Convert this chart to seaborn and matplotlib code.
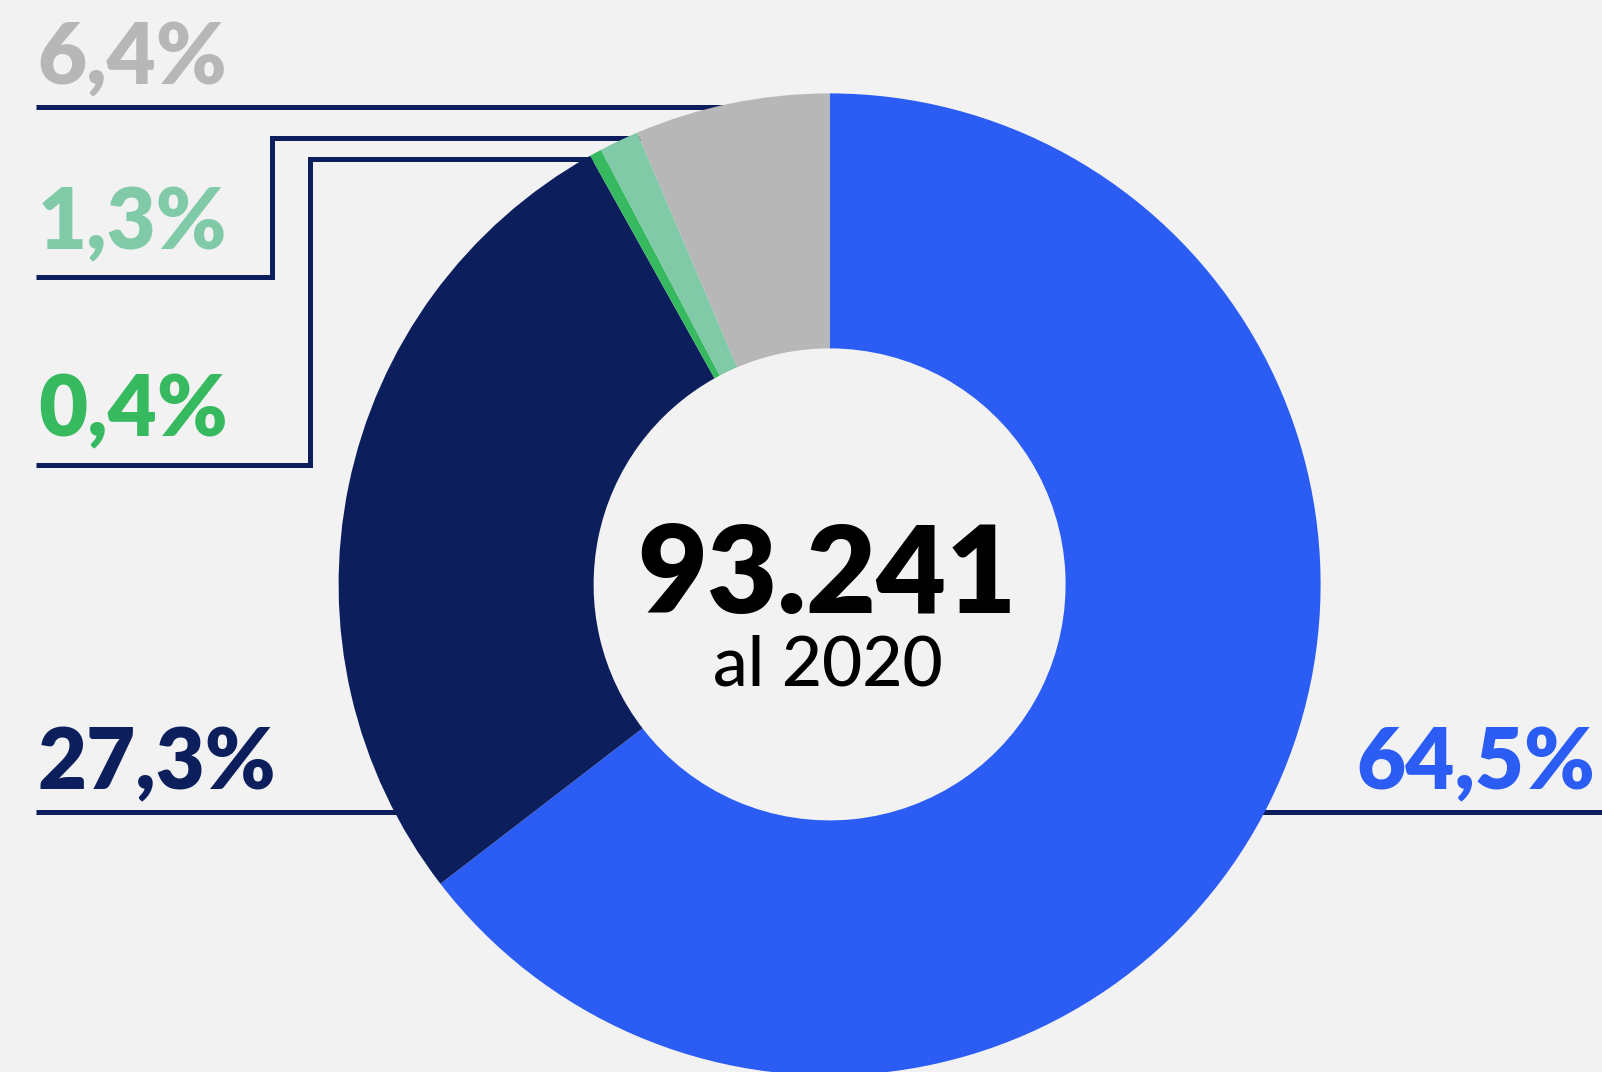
import numpy as np
import matplotlib
matplotlib.use("Agg")
import matplotlib.pyplot as plt
import seaborn as sns

# Shares of the total (clockwise from 12 o'clock)
categories = ["blu", "navy", "verde", "verde chiaro", "grigio"]
shares = [64.5, 27.3, 0.4, 1.3, 6.4]
share_labels = ["64,5%", "27,3%", "0,4%", "1,3%", "6,4%"]
total_label = "93.241"
subtitle = "al 2020"

colors = ["#2B5DF5", "#0C1F5C", "#36B95F", "#80CAA8", "#B7B7B7"]
bg = "#F2F2F2"
line_color = "#0C1F5C"

sns.set_theme(style="white")
plt.rcParams["font.family"] = ["Lato", "DejaVu Sans"]

W, H = 1602, 1072
fig = plt.figure(figsize=(W / 100, H / 100), dpi=100, facecolor=bg)
ax = fig.add_axes([0, 0, 1, 1])
ax.set_facecolor(bg)

cx, cy = 829.6, 584.4          # donut centre (pixels from top-left)
r_out, r_in = 491, 236


def fy(y):
    return H - y


ax.pie(shares, colors=colors, startangle=90, counterclock=False,
       radius=r_out, center=(cx, fy(cy)), frame=True,
       wedgeprops=dict(width=r_out - r_in, linewidth=0, antialiased=True))

ax.set_xlim(0, W)
ax.set_ylim(0, H)
ax.set_aspect("equal")
ax.axis("off")


def hit_x(y, side=-1, r=r_out - 8):
    dy = cy - y
    return cx + side * np.sqrt(max(r * r - dy * dy, 0.0))


lw = 3.6
x0 = 35.8
kw = dict(color=line_color, lw=lw, zorder=0, solid_capstyle="butt",
          solid_joinstyle="miter")

# leader lines, drawn underneath the ring
y_gray = 106.8
ax.plot([x0, hit_x(y_gray)], [fy(y_gray)] * 2, **kw)

y_lg_low, x_lg, y_lg_high = 276.9, 271.8, 137.9
ax.plot([x0, x_lg, x_lg, hit_x(y_lg_high)],
        [fy(y_lg_low), fy(y_lg_low), fy(y_lg_high), fy(y_lg_high)], **kw)

y_g_low, x_g, y_g_high = 464.9, 309.6, 159.4
ax.plot([x0, x_g, x_g, hit_x(y_g_high)],
        [fy(y_g_low), fy(y_g_low), fy(y_g_high), fy(y_g_high)], **kw)

y_bottom = 812.3
ax.plot([x0, hit_x(y_bottom)], [fy(y_bottom)] * 2, **kw)
ax.plot([hit_x(y_bottom, side=1), W + 10], [fy(y_bottom)] * 2, **kw)

# percentage labels
lab_kw = dict(fontsize=61, fontweight="heavy", ha="left", va="baseline")
positions = {
    0: (1356.0, 789.8),
    1: (37.8, 789.8),
    2: (37.8, 436.3),
    3: (37.8, 249.3),
    4: (37.8, 84.8),
}
for i, (x, y) in positions.items():
    ax.text(x, fy(y), share_labels[i], color=colors[i], **lab_kw)

# centre text
ax.text(827, fy(613), total_label, fontsize=87, fontweight="heavy",
        color="black", ha="center", va="baseline")
ax.text(827.6, fy(685.6), subtitle, fontsize=50, fontweight="medium",
        color="black", ha="center", va="baseline")

fig.savefig("out.png", dpi=100, facecolor=bg)
